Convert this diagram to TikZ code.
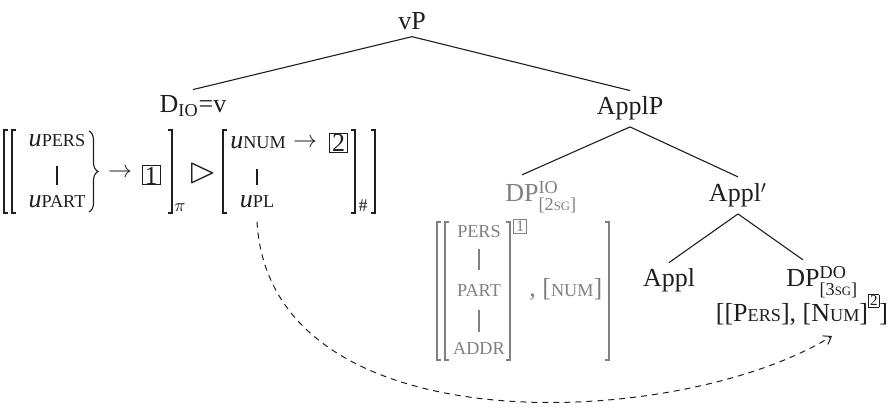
\documentclass[tikz,border=0pt]{standalone}
\usepackage{fontspec}
\usepackage{amsmath,amssymb}
\usepackage{graphicx}
\setmainfont{Liberation Serif}
\usetikzlibrary{decorations.pathreplacing,arrows.meta}
\definecolor{ink}{HTML}{1E1E1E}
\definecolor{greyt}{HTML}{808080}
\newcommand\fsc[1]{\scalebox{0.7}{\MakeUppercase{#1}}}
\newcommand\tagbox[1]{\raisebox{8pt}{\setlength\fboxsep{0.5pt}\setlength\fboxrule{0.45pt}\fbox{\fontsize{7.5}{8}\selectfont#1}}}
\newcommand\lbrak[3]{\draw[brk] ({#1+4},#2) -- (#1,#2) -- (#1,#3) -- ({#1+4},#3);}
\newcommand\rbrak[3]{\draw[brk] ({#1-4},#2) -- (#1,#2) -- (#1,#3) -- ({#1-4},#3);}
\begin{document}
\begin{tikzpicture}[x=0.5pt,y=-0.5pt,color=ink,
  font=\fontsize{13}{15}\selectfont,
  every node/.style={inner sep=0pt},
  lab/.style={inner xsep=0pt,inner ysep=3pt,anchor=base},
  feat/.style={inner sep=0pt,anchor=base},
  edge/.style={line width=0.55pt},
  brk/.style={line width=0.55pt},
  numbox/.style={draw,line width=0.5pt,inner sep=0pt,minimum width=9pt,minimum height=9.5pt},
  smallbox/.style={draw,line width=0.45pt,inner sep=0pt,minimum width=6.5pt,minimum height=7pt,font=\fontsize{8}{8}\selectfont},
  bar/.style={line width=0.55pt}]
\useasboundingbox (0,0) rectangle (890,411);

% tree
\node[lab] (vp) at (412,30) {vP};
\node[lab] (dio) at (193,113) {D$_{\text{IO}}$=v};
\node[lab] (applp) at (630,115) {ApplP};
\node[lab,text=greyt] (dpio) at (522,202) {DP\rlap{$^{\text{IO}}_{\text{[2\fsc{sg}]}}$}};
\node[lab] (applbar) at (738,202) {Appl$'$};
\node[lab] (appl) at (669,287) {Appl};
\node[lab] (dpdo) at (803,287) {DP\rlap{$^{\text{DO}}_{\text{[3\fsc{sg}]}}$}};
\node[feat] (dofeat) at (802,322) {[[P\fsc{ers}], [N\fsc{um}]\tagbox{2}]};

\draw[edge] (vp.south) -- (dio.north);
\draw[edge] (vp.south) -- (applp.north);
\draw[edge] (applp.south) -- (dpio.north);
\draw[edge] (applp.south) -- (applbar.north);
\draw[edge] (applbar.south) -- (appl.north);
\draw[edge] (applbar.south) -- (dpdo.north);

% left feature structure
\lbrak{4}{130}{213}
\lbrak{12}{130}{213}
\node[feat] (upers) at (57,147) {\textit{u}\fsc{pers}};
\node[feat] (upart) at (57,208) {\textit{u}\fsc{part}};
\draw[bar,shorten <=9pt,shorten >=5.5pt] (upers.south) -- (upart.north);
\draw[brk,decorate,decoration={brace,amplitude=4.5pt}] (89,131) -- (89,212);
\node (arr1) at (120,173) {$\rightarrow$};
\node[numbox] (b1) at (151,175.5) {1};
\rbrak{172}{130}{213}
\node (pi) at (180,208) {$\scriptstyle\pi$};
\node (tri) at (203,173) {\scalebox{1.4}{$\vartriangleright$}};
\lbrak{223}{130}{213}
\node[feat] (unum) at (258,149) {\textit{u}\fsc{num}};
\node (arr2) at (305,143) {$\rightarrow$};
\node[numbox] (b2) at (338.5,143) {2};
\node[feat] (upl) at (257,208) {\textit{u}\fsc{pl}};
\draw[bar,shorten <=9.5pt,shorten >=5.5pt] (unum.south -| upl.south) -- (upl.north);
\rbrak{355}{130}{213}
\node (hash) at (363,206) {\fontsize{9}{10}\selectfont\#};
\rbrak{375}{130}{213}

% DP_IO features (grey)
\begin{scope}[color=greyt]
\lbrak{437}{222}{360}
\lbrak{445}{222}{360}
\node[feat] (pers) at (479,238) {\fsc{pers}};
\node[feat] (part) at (479,297) {\fsc{part}};
\node[feat] (addr) at (479,355) {\fsc{addr}};
\draw[bar,shorten <=5pt,shorten >=7.5pt] (pers.south) -- (part.north);
\draw[bar,shorten <=6.5pt,shorten >=5.5pt] (part.south) -- (addr.north);
\rbrak{510}{222}{360}
\node[smallbox] (b1s) at (520,226) {1};
\node[feat,anchor=base west] (num) at (529,297) {, [\fsc{num}]};
\rbrak{609}{222}{360}
\end{scope}

% dashed agreement arrow
\coordinate (dashend) at (832,336);
\draw[line width=0.5pt,dash pattern=on 3pt off 2.5pt,-{Straight Barb[length=3.5pt,width=5pt]}]
  ([yshift=-6.5pt]upl.south) .. controls (270,450) and (680,430) .. (dashend);
\end{tikzpicture}
\end{document}
